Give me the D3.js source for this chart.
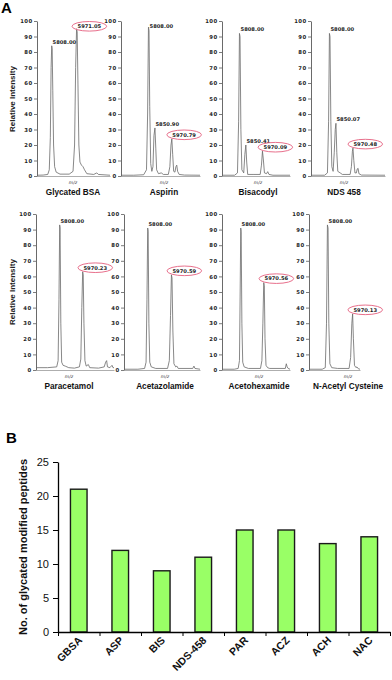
<!DOCTYPE html>
<html>
<head>
<meta charset="utf-8">
<script src="https://cdn.jsdelivr.net/npm/d3@7"></script>
<style>
  body { margin: 0; background: #fff; }
  svg { display: block; }
</style>
</head>
<body>
<svg id="chart" width="392" height="680"></svg>
<script>
// ---- panel A: mass spectra ----
let panelNames = ["Glycated BSA", "Aspirin", "Bisacodyl", "NDS 458",
    "Paracetamol", "Acetazolamide", "Acetohexamide", "N-Acetyl Cysteine"];

let mzRanges = [[5710, 6186], [5609, 6170], [5681, 6160], [5674, 6196],
    [5639, 6189], [5646, 6159], [5674, 6153], [5684, 6016]];

let intensityTicks = [0, 10, 20, 30, 40, 50, 60, 70, 80, 90, 100];

// traces: [m/z, relative intensity]
let traceBSA = [[5710, 0.5], [5750, 0.6], [5780, 1], [5790, 4], [5797, 25], [5802, 70], [5806, 84], [5809, 82],
    [5813, 55], [5818, 20], [5825, 6], [5835, 2.5], [5860, 1.2], [5920, 1.2], [5945, 3], [5955, 20], [5962, 70],
    [5968, 95], [5972, 93], [5977, 60], [5983, 20], [5990, 9], [6000, 7], [6010, 6], [6020, 4], [6035, 1.5],
    [6080, 1], [6100, 2], [6110, 1], [6186, 0.5]];
let traceASP = [[5609, 0.5], [5700, 0.5], [5770, 0.8], [5790, 4], [5798, 40], [5804, 96], [5808, 94], [5813, 45],
    [5820, 8], [5828, 3], [5836, 6], [5843, 26], [5850, 31], [5856, 18], [5862, 4], [5875, 1.5], [5895, 2],
    [5910, 1], [5945, 1], [5956, 6], [5964, 20], [5970, 24], [5976, 14], [5983, 3], [5992, 2.5], [5999, 6],
    [6005, 7], [6011, 3], [6022, 1], [6060, 0.6], [6170, 0.5]];
let traceBIS = [[5681, 0.5], [5770, 0.5], [5790, 2], [5798, 35], [5804, 92], [5808, 90], [5814, 30], [5821, 4],
    [5834, 2], [5842, 14], [5849, 20], [5855, 9], [5862, 1], [5900, 1], [5950, 1], [5959, 7], [5966, 16],
    [5972, 11], [5980, 2], [5995, 1.5], [6003, 2.8], [6012, 1], [6040, 0.5], [6160, 0.5]];
let traceNDS = [[5674, 0.5], [5770, 0.5], [5790, 2], [5798, 35], [5804, 92], [5808, 90], [5814, 35], [5821, 6],
    [5830, 3], [5838, 15], [5845, 30], [5850, 34], [5856, 15], [5863, 3], [5880, 2], [5895, 1], [5950, 1],
    [5959, 6], [5966, 16], [5970, 18], [5976, 10], [5984, 2], [5994, 2], [6000, 4.5], [6006, 5], [6012, 1.5],
    [6030, 0.6], [6196, 0.5]];
let tracePAR = [[5639, 1.5], [5720, 1.5], [5785, 2], [5795, 6], [5801, 45], [5806, 93], [5809, 91], [5814, 30],
    [5820, 5], [5830, 3], [5845, 2.5], [5870, 1.5], [5910, 1.2], [5945, 2], [5955, 7], [5962, 40], [5968, 63],
    [5972, 61], [5977, 30], [5984, 6], [5993, 2.5], [6008, 3.5], [6018, 1.5], [6080, 1.2], [6120, 2], [6130, 5],
    [6137, 6], [6143, 2], [6160, 1.5], [6175, 3], [6182, 1.5], [6189, 1.5]];
let traceACZ = [[5646, 0.5], [5740, 0.5], [5785, 1], [5795, 5], [5801, 45], [5806, 91], [5809, 89], [5814, 30],
    [5820, 5], [5830, 2], [5860, 1], [5940, 1], [5952, 6], [5960, 35], [5966, 61], [5970, 59], [5976, 25],
    [5983, 4], [5995, 2], [6003, 2.5], [6012, 1], [6110, 1], [6118, 2.5], [6125, 1], [6159, 0.5]];
let traceACH = [[5674, 0.5], [5760, 0.5], [5788, 1], [5797, 6], [5802, 50], [5806, 91], [5809, 89], [5814, 30],
    [5820, 5], [5830, 2], [5860, 1], [5945, 1], [5955, 6], [5962, 30], [5968, 56], [5972, 54], [5977, 20],
    [5984, 3], [5995, 1.5], [6010, 1], [6120, 1], [6127, 4], [6133, 2], [6140, 1], [6153, 0.5]];
let traceNAC = [[5684, 0.5], [5770, 0.5], [5790, 1.5], [5798, 30], [5804, 93], [5808, 91], [5813, 30], [5820, 4],
    [5832, 1.5], [5870, 1], [5945, 1], [5955, 8], [5963, 30], [5968, 36], [5973, 20], [5980, 3], [5990, 1.5],
    [5996, 2], [6005, 0.8], [6016, 0.5]];

let traces = [traceBSA, traceASP, traceBIS, traceNDS, tracePAR, traceACZ, traceACH, traceNAC];

// labelled peaks: [m/z, intensity, label, circled]
let peakLabels = [
    [[5808, 84, "5808.00"], [5971, 95, "5971.05", true]],
    [[5808, 96, "5808.00"], [5850, 31, "5850.90"], [5970, 24, "5970.79", true]],
    [[5808, 92, "5808.00"], [5850, 20, "5850.41"], [5970, 16, "5970.09", true]],
    [[5808, 92, "5808.00"], [5850, 34, "5850.07"], [5970, 18, "5970.48", true]],
    [[5808, 93, "5808.00"], [5970, 63, "5970.23", true]],
    [[5808, 91, "5808.00"], [5970, 61, "5970.59", true]],
    [[5808, 91, "5808.00"], [5970, 56, "5970.56", true]],
    [[5808, 93, "5808.00"], [5970, 36, "5970.13", true]]
];

// ---- panel B: bar chart ----
let drugCodes = ["GBSA", "ASP", "BIS", "NDS-458", "PAR", "ACZ", "ACH", "NAC"];
let peptideCounts = [21, 12, 9, 11, 15, 15, 13, 14];
let countTicks = [0, 5, 10, 15, 20, 25];

// layout of the eight spectra (pixels)
let panelBoxes = [
    { x0: 37, x1: 110, cx: 73, top: 21, bottom: 176 },
    { x0: 121, x1: 200, cx: 164, top: 21, bottom: 176 },
    { x0: 222, x1: 290, cx: 258, top: 21, bottom: 176 },
    { x0: 311, x1: 385, cx: 344, top: 21, bottom: 176 },
    { x0: 36, x1: 114, cx: 69, top: 214, bottom: 370 },
    { x0: 124, x1: 200, cx: 165, top: 214, bottom: 370 },
    { x0: 222, x1: 290, cx: 259, top: 214, bottom: 370 },
    { x0: 309, x1: 360, cx: 348, top: 214, bottom: 370 }
];

let svg = d3.select("#chart");
let smallFont = "DejaVu Sans, sans-serif";
let capFont = "'Liberation Sans', Arial, sans-serif";

function renderSpectra() {
    svg.append("text")
        .attr("x", 1)
        .attr("y", 13)
        .attr("font-family", "Liberation Sans, Arial, sans-serif")
        .attr("font-weight", "bold")
        .attr("font-size", "15px")
        .text("A");

    [99, 292].forEach(cy => {
        svg.append("text")
            .attr("transform", "translate(15," + cy + ") rotate(-90)")
            .attr("font-family", "Liberation Sans, Arial, sans-serif")
            .attr("font-weight", "bold")
            .attr("font-size", "8px")
            .attr("fill", "#222")
            .style("text-anchor", "middle")
            .text("Relative Intensity");
    });

    panelBoxes.forEach((box, i) => {
        let xScale = d3.scaleLinear().domain(mzRanges[i]).range([box.x0, box.x1]);
        let yScale = d3.scaleLinear().domain([0, 100]).range([box.bottom, box.top]);

        let g = svg.append("g");

        // baseline
        let xAxis = g.append("g")
            .attr("transform", "translate(0," + box.bottom + ")")
            .call(d3.axisBottom(xScale).tickValues([]).tickSizeOuter(0));
        xAxis.select(".domain").attr("stroke", "#999").attr("stroke-width", 0.8);

        // intensity axis
        let yAxis = g.append("g")
            .attr("transform", "translate(" + box.x0 + ",0)")
            .call(d3.axisLeft(yScale).tickValues(intensityTicks).tickSize(3).tickSizeOuter(0).tickPadding(1.5));
        yAxis.select(".domain").attr("stroke", "#444").attr("stroke-width", 0.8);
        yAxis.selectAll(".tick line").attr("stroke", "#444").attr("stroke-width", 0.7);
        yAxis.selectAll(".tick text")
            .attr("font-family", smallFont)
            .attr("font-weight", "bold")
            .attr("font-size", "5.3px")
            .attr("letter-spacing", "0.4px")
            .attr("fill", "#222");

        // spectrum trace
        let line = d3.line()
            .x(d => xScale(d[0]))
            .y(d => yScale(d[1]));
        g.append("path")
            .datum(traces[i])
            .attr("d", line)
            .attr("fill", "none")
            .attr("stroke", "#6a6a6a")
            .attr("stroke-width", 0.8)
            .attr("stroke-linejoin", "round");

        // peak labels
        peakLabels[i].forEach(p => {
            let tx = xScale(p[0]) + 0.5;
            let ty = yScale(Math.min(p[1], 94)) - 4;
            let t = g.append("text")
                .attr("x", tx)
                .attr("y", ty)
                .attr("dy", "0.35em")
                .attr("font-family", smallFont)
                .attr("font-weight", "bold")
                .attr("font-size", "5.2px")
                .attr("fill", "#222")
                .text(p[2]);
            if (p[3]) {
                let tw = t.node().getComputedTextLength();
                g.insert("ellipse", () => t.node())
                    .attr("cx", tx + tw / 2)
                    .attr("cy", ty)
                    .attr("rx", tw / 2 + 5.5)
                    .attr("ry", 4.8)
                    .attr("fill", "none")
                    .attr("stroke", "#e8708c")
                    .attr("stroke-width", 1);
            }
        });

        g.append("text")
            .attr("x", box.cx)
            .attr("y", box.bottom + 7.5)
            .attr("font-family", smallFont)
            .attr("font-style", "italic")
            .attr("font-size", "4.5px")
            .attr("fill", "#333")
            .style("text-anchor", "middle")
            .text("m/z");

        // condensed caption
        g.append("text")
            .attr("transform", "translate(" + box.cx + "," + (box.bottom + 18.5) + ") scale(0.86,1)")
            .attr("font-family", capFont)
            .attr("font-weight", "bold")
            .attr("font-size", "9.6px")
            .attr("fill", "#111")
            .style("text-anchor", "middle")
            .text(panelNames[i]);
    });
}

function renderBars() {
    let margin = { top: 462, left: 58, right: 2, bottom: 48 };
    let width = 392 - margin.left - margin.right;
    let height = 680 - margin.top - margin.bottom;

    svg.append("text")
        .attr("x", 6)
        .attr("y", 443)
        .attr("font-family", "Liberation Sans, Arial, sans-serif")
        .attr("font-weight", "bold")
        .attr("font-size", "15px")
        .text("B");

    let xScale = d3.scaleBand().domain(drugCodes).range([0, width]).paddingInner(0.6).paddingOuter(0.3);
    let yScale = d3.scaleLinear().domain([0, 25]).range([height, 0]);

    let g = svg.append("g")
        .attr("transform", "translate(" + margin.left + "," + margin.top + ")");

    g.selectAll(".bar")
        .data(drugCodes)
        .enter()
        .append("rect")
        .classed("bar", true)
        .attr("x", d => xScale(d))
        .attr("y", (d, i) => yScale(peptideCounts[i]))
        .attr("width", xScale.bandwidth())
        .attr("height", (d, i) => height - yScale(peptideCounts[i]))
        .attr("fill", "#99ff66")
        .attr("stroke", "#1a1a1a")
        .attr("stroke-width", 1.4);

    let yAxis = g.append("g")
        .call(d3.axisLeft(yScale).tickValues(countTicks).tickSize(5).tickSizeOuter(0).tickPadding(4));
    yAxis.selectAll("text")
        .attr("font-family", "Liberation Sans, Arial, sans-serif")
        .attr("font-size", "11px")
        .attr("fill", "#111");

    // ticks sit between the bars
    let bounds = drugCodes.map(d => xScale(d) - xScale.step() * xScale.paddingInner() / 2)
        .concat([width]);
    let xAxis = g.append("g")
        .attr("transform", "translate(0," + height + ")")
        .call(d3.axisBottom(d3.scaleLinear().domain([0, width]).range([0, width]))
            .tickValues(bounds).tickSize(4).tickSizeOuter(0).tickFormat(""));
    xAxis.select(".domain").attr("stroke-width", 1.3);
    yAxis.select(".domain").attr("stroke-width", 1.3);

    g.selectAll(".xlab")
        .data(drugCodes)
        .enter()
        .append("text")
        .classed("xlab", true)
        .attr("transform", d => "translate(" + (xScale(d) + xScale.bandwidth() / 2 + 4) + "," + (height + 9) + ") rotate(-45)")
        .attr("font-family", "Liberation Sans, Arial, sans-serif")
        .attr("font-weight", "bold")
        .attr("font-size", "10.5px")
        .attr("fill", "#111")
        .style("text-anchor", "end")
        .text(d => d);

    svg.append("text")
        .attr("transform", "translate(27," + (margin.top + height / 2) + ") rotate(-90)")
        .attr("font-family", "Liberation Sans, Arial, sans-serif")
        .attr("font-weight", "bold")
        .attr("font-size", "11px")
        .attr("fill", "#111")
        .style("text-anchor", "middle")
        .text("No. of glycated modified peptides");
}

renderSpectra();
renderBars();
</script>
</body>
</html>
